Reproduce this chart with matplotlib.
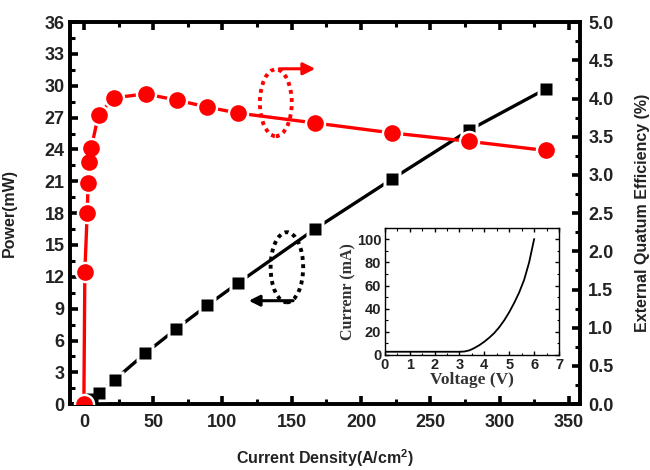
import matplotlib
matplotlib.use('Agg')
import matplotlib.pyplot as plt
from matplotlib.patches import Ellipse
from matplotlib.ticker import MultipleLocator

# ---------------- data ----------------
density_power = [0, 5.6, 11.1, 22.2, 44.4, 66.7, 88.9, 111.1, 166.7, 222.2, 277.8, 333.3]
power_mw = [0, 0.5, 1.1, 2.3, 4.8, 7.1, 9.3, 11.4, 16.5, 21.2, 25.8, 29.7]

density_eqe = [0, 0.7, 2.4, 3.1, 3.8, 5.3, 10.6, 21.9, 44.5, 66.9, 88.7, 110.9,
               166.7, 222.2, 277.8, 333.3]
eqe_pct = [0, 1.73, 2.50, 2.90, 3.17, 3.35, 3.79, 4.01, 4.06, 3.98, 3.89, 3.81,
           3.68, 3.55, 3.44, 3.32]

inset_voltage = [0, 1, 2, 3, 3.2, 3.4, 3.6, 3.8, 4.0, 4.2, 4.4, 4.6, 4.8, 5.0,
                 5.2, 5.4, 5.6, 5.8, 6.0]
inset_current = [2.8, 2.8, 2.8, 2.8, 3.0, 4.0, 6.0, 8.5, 11.5, 15, 19, 24, 30,
                 37, 45, 54, 65, 80, 100]

eqe_ticks = [0.0, 0.5, 1.0, 1.5, 2.0, 2.5, 3.0, 3.5, 4.0, 4.5, 5.0]

x_label = r"Current Density(A/cm$^2$)"
yl_label = "Power(mW)"
yr_label = "External Quatum Efficiency (%)"
inset_xlabel = "Voltage (V)"
inset_ylabel = "Currenr (mA)"

# ---------------- style ----------------
plt.rcParams['font.family'] = ['Liberation Sans', 'DejaVu Sans']
plt.rcParams['font.weight'] = 'bold'
plt.rcParams['mathtext.fontset'] = 'custom'
plt.rcParams['mathtext.rm'] = 'Liberation Sans:bold'
plt.rcParams['mathtext.bf'] = 'Liberation Sans:bold'
plt.rcParams['mathtext.default'] = 'rm'

fig = plt.figure(figsize=(6.5, 4.7), dpi=100)
ax = fig.add_axes([0.1077, 0.140, 0.7846, 0.813])
ax2 = ax.twinx()

RED = '#ff0000'
TXT = '#222222'

# black power curve
ax.plot(density_power, power_mw, color='black', lw=2.4, zorder=2)
ax.plot(density_power, power_mw, ls='none', marker='s', ms=13, mfc='white',
        mec='none', zorder=3)
ax.plot(density_power, power_mw, ls='none', marker='s', ms=8.8, mfc='black',
        mec='none', zorder=4)

# red EQE curve
ax2.plot(density_eqe, eqe_pct, color=RED, lw=2.4, zorder=2)
ax2.plot(density_eqe, eqe_pct, ls='none', marker='o', ms=15.5, mfc='white',
         mec='none', zorder=3)
ax2.plot(density_eqe, eqe_pct, ls='none', marker='o', ms=12, mfc=RED,
         mec='none', zorder=4)

ax.set_xlim(-10, 358)
ax.set_ylim(0, 36)
ax2.set_ylim(0, 5.0)

ax.xaxis.set_major_locator(MultipleLocator(50))
ax.xaxis.set_minor_locator(MultipleLocator(25))
ax.yaxis.set_major_locator(MultipleLocator(3))
ax.yaxis.set_minor_locator(MultipleLocator(1.5))
ax2.set_yticks(eqe_ticks)
ax2.set_yticklabels([f"{v:.1f}" for v in eqe_ticks])
ax2.yaxis.set_minor_locator(MultipleLocator(0.25))

for a in (ax, ax2):
    for s in a.spines.values():
        s.set_linewidth(2.6)

ax.tick_params(axis='x', which='both', direction='in', top=True, bottom=True,
               labelsize=13, pad=7)
ax.tick_params(axis='y', which='both', direction='in', left=True, right=False,
               labelsize=13, pad=4)
ax.tick_params(which='major', length=6, width=2.6)
ax.tick_params(which='minor', length=3.5, width=2.2)
ax2.tick_params(axis='y', which='both', direction='in', labelsize=13, pad=6)
ax2.tick_params(which='major', length=6, width=2.6)
ax2.tick_params(which='minor', length=3.5, width=2.2)
for lab in ax.get_xticklabels() + ax.get_yticklabels() + ax2.get_yticklabels():
    lab.set_fontweight('bold')
    lab.set_color(TXT)

ax.set_xlabel(x_label, fontsize=11.5, fontweight='bold', color=TXT)
ax.xaxis.set_label_coords(0.5, -0.113)
ax.set_ylabel(yl_label, fontsize=11.5, fontweight='bold', color=TXT)
ax.yaxis.set_label_coords(-0.104, 0.5)
ax2.set_ylabel(yr_label, fontsize=11.5, fontweight='bold', color=TXT)
ax2.yaxis.set_label_coords(1.108, 0.5)

# ellipses + arrows
ax.add_patch(Ellipse((138.5, 28.4), 23, 6.3, fill=False, ec=RED, lw=2.8,
                     ls=(0, (1, 1.1)), zorder=5))
ax.annotate('', xy=(167, 31.6), xytext=(141, 31.6),
            arrowprops=dict(arrowstyle='-|>', color=RED, lw=2.2,
                            mutation_scale=18, shrinkA=0, shrinkB=0), zorder=5)
ax.add_patch(Ellipse((146.5, 12.9), 23.5, 6.6, fill=False, ec='black', lw=2.8,
                     ls=(0, (1, 1.1)), zorder=5))
ax.annotate('', xy=(119, 9.75), xytext=(151, 9.75),
            arrowprops=dict(arrowstyle='-|>', color='black', lw=2.2,
                            mutation_scale=16, shrinkA=0, shrinkB=0), zorder=5)

# ---------------- inset ----------------
axin = fig.add_axes([0.592, 0.2447, 0.268, 0.271])
axin.plot(inset_voltage, inset_current, color='black', lw=1.3)
axin.set_xlim(0, 7)
axin.set_ylim(0, 110)
axin.xaxis.set_major_locator(MultipleLocator(1))
axin.xaxis.set_minor_locator(MultipleLocator(0.5))
axin.yaxis.set_major_locator(MultipleLocator(20))
axin.yaxis.set_minor_locator(MultipleLocator(10))
for s in axin.spines.values():
    s.set_linewidth(1.0)
axin.tick_params(which='both', direction='in', top=True, right=True,
                 labelsize=10.5)
axin.tick_params(axis='x', pad=2.5)
axin.tick_params(axis='y', pad=2.5)
axin.tick_params(which='major', length=3, width=1.0)
axin.tick_params(which='minor', length=1.8, width=0.8)
for lab in axin.get_xticklabels() + axin.get_yticklabels():
    lab.set_fontweight('bold')
    lab.set_color(TXT)
axin.set_xlabel(inset_xlabel, fontsize=12.5, fontweight='bold',
                family=['Liberation Serif', 'DejaVu Serif'], color='#333333', labelpad=-0.5)
axin.set_ylabel(inset_ylabel, fontsize=11.5, fontweight='bold',
                family=['Liberation Serif', 'DejaVu Serif'], color='#333333', labelpad=0)

fig.savefig('out.png', dpi=100)
